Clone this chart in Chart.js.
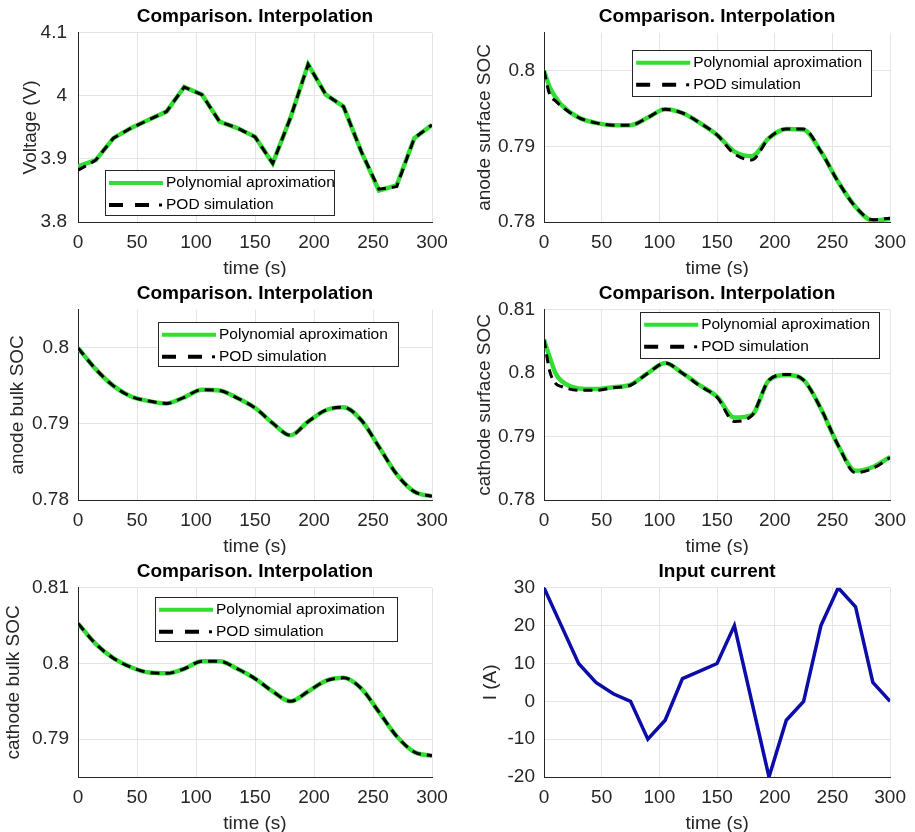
<!DOCTYPE html>
<html>
<head>
<meta charset="utf-8">
<script src="https://cdn.jsdelivr.net/npm/chart.js@4.4.1/dist/chart.umd.min.js"></script>
<style>
  html, body { margin: 0; padding: 0; background: #fff; }
  #fig { position: relative; width: 915px; height: 832px; }
  canvas { position: absolute; }
</style>
</head>
<body>
<div id="fig">
  <canvas id="cVolt" width="457" height="277" style="left:0;top:0"></canvas>
  <canvas id="cAnodeSurf" width="458" height="277" style="left:457px;top:0"></canvas>
  <canvas id="cAnodeBulk" width="457" height="278" style="left:0;top:277px"></canvas>
  <canvas id="cCathSurf" width="458" height="278" style="left:457px;top:277px"></canvas>
  <canvas id="cCathBulk" width="457" height="277" style="left:0;top:555px"></canvas>
  <canvas id="cCurrent" width="458" height="277" style="left:457px;top:555px"></canvas>
</div>
<script>
// ---------------------
// DATA
// ---------------------
const seriesNames = ['Polynomial aproximation', 'POD simulation'];
const xTicks = [0, 50, 100, 150, 200, 250, 300];

const timeS = [0, 15, 30, 45, 60, 75, 90, 105, 120, 135, 150, 165, 180, 195, 210, 225, 240, 255, 270, 285, 300];
const timeEarly = [0, 5, 10, 15, 30, 45, 60, 75, 90, 105, 120, 135, 150, 165, 180, 195, 210, 225, 240, 255, 270, 285, 300];
const timeCurrent = [0, 15, 30, 45, 60, 75, 90, 105, 120, 135, 150, 165, 195, 210, 225, 240, 255, 270, 285, 300];

// Voltage (V)
const voltTicks = [3.8, 3.9, 4, 4.1];
const voltPoly = [3.888, 3.898, 3.933, 3.949, 3.962, 3.975, 4.014, 4.002, 3.959, 3.949, 3.935, 3.893, 3.965, 4.050, 4.002, 3.983, 3.912, 3.850, 3.858, 3.933, 3.954];
const voltPod  = [3.882, 3.898, 3.933, 3.949, 3.962, 3.975, 4.014, 4.002, 3.959, 3.949, 3.935, 3.893, 3.965, 4.050, 4.002, 3.983, 3.912, 3.852, 3.856, 3.933, 3.954];

// anode surface SOC (timeEarly)
const anodeSurfTicks = [0.78, 0.79, 0.8];
const anodeSurfPoly = [0.8000, 0.7978, 0.7965, 0.7955, 0.7938, 0.7931, 0.7928, 0.7928, 0.7938, 0.7949, 0.7944, 0.7931, 0.7915, 0.7893, 0.7887, 0.7911, 0.7923, 0.7922, 0.7893, 0.7853, 0.7820, 0.7802, 0.7804];
const anodeSurfPod  = [0.8000, 0.7968, 0.7960, 0.7953, 0.7938, 0.7931, 0.7928, 0.7928, 0.7938, 0.7949, 0.7944, 0.7931, 0.7915, 0.7890, 0.7882, 0.7911, 0.7923, 0.7923, 0.7893, 0.7853, 0.7820, 0.7803, 0.7805];

// anode bulk SOC (timeS)
const anodeBulkTicks = [0.78, 0.79, 0.8];
const anodeBulkPoly = [0.8000, 0.7972, 0.7950, 0.7936, 0.7930, 0.7927, 0.7935, 0.7945, 0.7944, 0.7934, 0.7921, 0.7901, 0.7885, 0.7903, 0.7918, 0.7922, 0.7905, 0.7870, 0.7834, 0.7811, 0.7805];
const anodeBulkPod  = [0.8000, 0.7972, 0.7950, 0.7936, 0.7930, 0.7927, 0.7935, 0.7945, 0.7944, 0.7934, 0.7921, 0.7901, 0.7885, 0.7903, 0.7918, 0.7922, 0.7905, 0.7870, 0.7834, 0.7811, 0.7805];

// cathode surface SOC (timeEarly)
const cathSurfTicks = [0.78, 0.79, 0.8, 0.81];
const cathSurfPoly = [0.8053, 0.8025, 0.8000, 0.7988, 0.7976, 0.7975, 0.7978, 0.7982, 0.8000, 0.8016, 0.8000, 0.7981, 0.7963, 0.7930, 0.7934, 0.7989, 0.7997, 0.7989, 0.7944, 0.7886, 0.7846, 0.7852, 0.7868];
const cathSurfPod  = [0.8053, 0.8003, 0.7984, 0.7979, 0.7973, 0.7973, 0.7977, 0.7981, 0.8000, 0.8016, 0.8000, 0.7980, 0.7962, 0.7924, 0.7933, 0.7989, 0.7998, 0.7989, 0.7944, 0.7886, 0.7843, 0.7850, 0.7867];

// cathode bulk SOC (timeS)
const cathBulkTicks = [0.79, 0.8, 0.81];
const cathBulkPoly = [0.8053, 0.8026, 0.8007, 0.7995, 0.7988, 0.7987, 0.7993, 0.8003, 0.8003, 0.7993, 0.7980, 0.7963, 0.7950, 0.7963, 0.7977, 0.7981, 0.7967, 0.7936, 0.7904, 0.7883, 0.7878];
const cathBulkPod  = [0.8053, 0.8026, 0.8007, 0.7995, 0.7988, 0.7987, 0.7993, 0.8003, 0.8003, 0.7993, 0.7980, 0.7963, 0.7950, 0.7963, 0.7977, 0.7981, 0.7967, 0.7936, 0.7904, 0.7883, 0.7878];

// Input current (A)
const currentTicks = [-20, -10, 0, 10, 20, 30];
const currentA = [30, 20, 10, 5, 2, 0, -10, -5, 6, 8, 10, 20, -20, -5, 0, 20, 30, 25, 5, 0];

// ---------------------
// STYLE
// ---------------------
const FONT = '"Liberation Sans", Arial, Helvetica, sans-serif';
const GREEN = '#33dd33';
const INK = '#262626';
const GRID = '#e4e4e4';

const pts = (t, v) => t.map((x, i) => ({ x, y: v[i] }));

// boxed legend drawn inside the plot area, like the MATLAB one
const boxLegend = {
  id: 'boxLegend',
  afterDatasetsDraw(chart, args, o) {
    if (!o || !o.show) return;
    const a = chart.chartArea, ctx = chart.ctx;
    const x = o.right != null ? a.right - o.right - o.w : a.left + o.left;
    const y = o.bottom != null ? a.bottom - o.bottom - o.h : a.top + o.top;
    ctx.save();
    ctx.fillStyle = '#fff';
    ctx.fillRect(x, y, o.w, o.h);
    ctx.strokeStyle = INK;
    ctx.lineWidth = 1;
    ctx.strokeRect(Math.round(x) + 0.5, Math.round(y) + 0.5, o.w, o.h);
    chart.data.datasets.forEach((d, i) => {
      const ly = y + 13 + i * 22;
      ctx.strokeStyle = d.borderColor;
      ctx.lineWidth = 4;
      ctx.setLineDash(i ? [14, 12] : []);
      ctx.beginPath();
      ctx.moveTo(x + 4, ly);
      ctx.lineTo(x + (i ? 44 : 58), ly);
      ctx.stroke();
      ctx.setLineDash([]);
      if (i) { ctx.fillStyle = d.borderColor; ctx.fillRect(x + 54, ly - 1.5, 3, 3); }
      ctx.fillStyle = '#000';
      ctx.font = '15.5px ' + FONT;
      ctx.textBaseline = 'middle';
      ctx.fillText(d.label, x + 61, ly);
    });
    ctx.restore();
  }
};

function panel(id, p) {
  const right = p.axisW === 78 ? 25 : 17;
  new Chart(document.getElementById(id), {
    type: 'line',
    data: { datasets: p.series },
    options: {
      responsive: false,
      animation: false,
      devicePixelRatio: 1,
      layout: { padding: { left: 0, right, top: 0, bottom: 0 } },
      elements: { point: { radius: 0 } },
      plugins: {
        legend: { display: false },
        tooltip: { enabled: false },
        title: {
          display: true, text: p.title, fullSize: false, color: '#000',
          font: { family: FONT, size: 19, weight: 'bold' },
          padding: { top: 5, bottom: 5 }
        },
        boxLegend: p.legend || { show: false }
      },
      scales: {
        x: {
          type: 'linear', min: 0, max: 300,
          afterBuildTicks: s => { s.ticks = xTicks.map(v => ({ value: v })); },
          afterFit: s => { s.height = 55; },
          ticks: { color: INK, font: { family: FONT, size: 19 }, padding: 9, maxRotation: 0, autoSkip: false },
          grid: { color: GRID, drawTicks: false },
          border: { color: INK },
          title: { display: true, text: 'time (s)', color: INK, font: { family: FONT, size: 19 }, padding: { top: 0, bottom: -3 } }
        },
        y: {
          min: p.yMin, max: p.yMax,
          afterBuildTicks: s => { s.ticks = p.yTicks.map(v => ({ value: v })); },
          afterFit: s => { s.width = p.axisW; },
          ticks: { color: INK, font: { family: FONT, size: 19 }, padding: p.tickPad, callback: v => String(+v.toFixed(3)) },
          grid: { color: GRID, drawTicks: false },
          border: { color: INK },
          title: { display: true, text: p.yLabel, color: INK, font: { family: FONT, size: 19 }, padding: { top: p.titlePad, bottom: 0 } }
        }
      }
    },
    plugins: [boxLegend]
  });
}

// green first in the legend, but drawn under the dashed POD line (higher order = drawn earlier)
function pair(t1, v1, t2, v2, smooth) {
  const mode = smooth ? 'monotone' : 'default';
  return [
    { label: seriesNames[0], data: pts(t1, v1), borderColor: GREEN, borderWidth: 4.5, order: 2, cubicInterpolationMode: mode, tension: 0 },
    { label: seriesNames[1], data: pts(t2, v2), borderColor: '#000', borderWidth: 3, order: 1, borderDash: [9, 6], cubicInterpolationMode: mode, tension: 0 }
  ];
}

const CMP = 'Comparison. Interpolation';

panel('cVolt', {
  title: CMP, yLabel: 'Voltage (V)', yMin: 3.8, yMax: 4.1, yTicks: voltTicks, axisW: 78, tickPad: 11, titlePad: 19,
  series: pair(timeS, voltPoly, timeS, voltPod, false),
  legend: { show: true, left: 27, bottom: 7, w: 229, h: 45 }
});
panel('cAnodeSurf', {
  title: CMP, yLabel: 'anode surface SOC', yMin: 0.78, yMax: 0.805, yTicks: anodeSurfTicks, axisW: 87, tickPad: 9, titlePad: 16,
  series: pair(timeEarly, anodeSurfPoly, timeEarly, anodeSurfPod, true),
  legend: { show: true, right: 19, top: 17, w: 239, h: 46 }
});
panel('cAnodeBulk', {
  title: CMP, yLabel: 'anode bulk SOC', yMin: 0.78, yMax: 0.805, yTicks: anodeBulkTicks, axisW: 78, tickPad: 9, titlePad: 6,
  series: pair(timeS, anodeBulkPoly, timeS, anodeBulkPod, true),
  legend: { show: true, right: 34, top: 12, w: 240, h: 44 }
});
panel('cCathSurf', {
  title: CMP, yLabel: 'cathode surface SOC', yMin: 0.78, yMax: 0.81, yTicks: cathSurfTicks, axisW: 87, tickPad: 9, titlePad: 16,
  series: pair(timeEarly, cathSurfPoly, timeEarly, cathSurfPod, true),
  legend: { show: true, right: 11, top: 2, w: 239, h: 46 }
});
panel('cCathBulk', {
  title: CMP, yLabel: 'cathode bulk SOC', yMin: 0.785, yMax: 0.81, yTicks: cathBulkTicks, axisW: 78, tickPad: 9, titlePad: 2,
  series: pair(timeS, cathBulkPoly, timeS, cathBulkPod, true),
  legend: { show: true, right: 35, top: 9, w: 242, h: 44 }
});
panel('cCurrent', {
  title: 'Input current', yLabel: 'I (A)', yMin: -20, yMax: 30, yTicks: currentTicks, axisW: 87, tickPad: 9, titlePad: 22,
  series: [{ label: 'I', data: pts(timeCurrent, currentA), borderColor: '#0c0ca8', borderWidth: 3.5, tension: 0 }]
});
</script>
</body>
</html>
